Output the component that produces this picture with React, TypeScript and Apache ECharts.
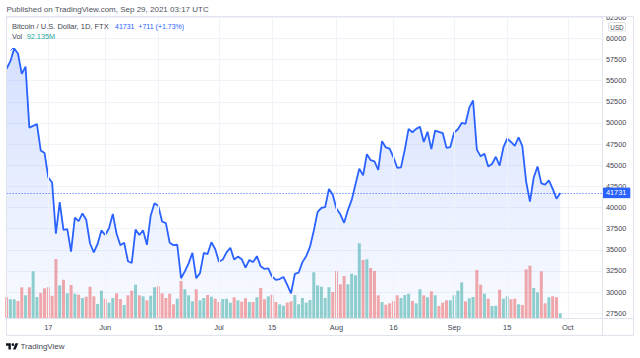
import React, { useEffect, useRef } from "react";
import * as echarts from "echarts";

// ---- data ----
const START = Date.UTC(2021, 4, 6);
const categories: string[] = Array.from({ length: 158 }, (_, i) =>
  new Date(START + i * 86400000).toISOString().slice(0, 10)
);

const closes: number[] = [
  // May 6-31
  56400, 57300, 58800, 58200, 55800, 56650, 49450, 49650, 49850, 46750,
  46450, 43550, 42950, 36900, 40650, 37350, 37450, 34800, 38800, 38400,
  39300, 38550, 35750, 34700, 35700, 37300,
  // Jun
  36750, 37550, 39250, 36900, 35550, 35850, 33650, 33450, 37400, 36750,
  37300, 35600, 39050, 40500, 40200, 38350, 38150, 35850, 35550, 35600,
  31650, 32450, 33400, 34650, 31650, 32250, 34650, 34500, 35900, 35100,
  // Jul
  33600, 33850, 34700, 35250, 33850, 34200, 33900, 32900, 33800, 33550,
  34250, 33050, 32750, 32800, 31850, 31450, 31550, 31800, 30850, 29850,
  32150, 32300, 33550, 34250, 35350, 37250, 39450, 39950, 40050, 42200,
  41500,
  // Aug
  39850, 39200, 38200, 39700, 40900, 42750, 44600, 43800, 46300, 45600,
  45450, 44450, 47850, 47100, 46950, 45950, 44700, 44750, 46850, 49300,
  48900, 49300, 49550, 47750, 48950, 46900, 49100, 48950, 48800, 47050,
  47150,
  // Sep 1-29
  48850, 49250, 50000, 49900, 51800, 52650, 46850, 46050, 46350, 44850,
  45150, 46000, 44950, 47100, 48150, 47750, 47300, 48300, 47250, 43050,
  40700, 43550, 44850, 42850, 42700, 43200, 42200, 41050, 41731,
];

// volume, millions of USD
const volumes: number[] = [
  406, 367, 367, 333, 602, 445, 602, 915, 412, 490, 582, 602, 437, 1156, 641,
  751, 484, 647, 476, 457, 392, 417, 613, 425, 274, 535,
  378, 300, 392, 484, 372, 255, 445, 535, 653, 445, 425, 347, 437, 602, 621,
  484, 392, 476, 269, 378, 725, 563, 445, 327, 563, 347, 392, 451, 417, 378,
  314, 372, 378, 300, 406, 347, 319, 386, 314, 314, 406, 588, 367, 425, 457,
  314, 269, 241, 300, 327, 451, 269, 392, 300, 353, 896, 641, 613, 392, 602,
  510,
  921, 661, 823, 661, 868, 837, 1464, 1137, 1151, 980, 921, 445, 314, 261,
  288, 327, 445, 392, 451, 476, 333, 288, 563, 445, 406, 523, 445, 235, 300,
  347, 347,
  445, 535, 700, 327, 386, 412, 941, 653, 476, 378, 235, 241, 555, 378, 425,
  367, 378, 269, 255, 955, 1025, 588, 504, 915, 288, 406, 425, 406, 92.135,
];

const prevClose = 57400;
const lastPrice = 41731;
const tickDates = [
  "2021-05-17", "2021-06-01", "2021-06-15", "2021-07-01", "2021-07-15",
  "2021-08-01", "2021-08-16", "2021-09-01", "2021-09-15", "2021-10-01",
];
const tickLabels = ["17", "Jun", "15", "Jul", "15", "Aug", "16", "Sep", "15", "Oct"];
const priceTicks = [
  27500, 30000, 32500, 35000, 37500, 40000, 42500, 45000, 47500, 50000,
  52500, 55000, 57500, 60000, 62500,
];

const FONT = "'Liberation Sans', Arial, sans-serif";
const BLUE = "#2962ff";
const UP = "rgba(38,166,154,0.5)";
const DOWN = "rgba(239,83,80,0.5)";
const TEXT = "#434651";

const logoPath =
  "M14 22H7V11H0V4h14v18zM28 22h-8l7.5-18h8L28 22zM24 8a4 4 0 1 1-8 0a4 4 0 1 1 8 0z";
let registered = false;

export default function App() {
  const ref = useRef<HTMLDivElement>(null);
  useEffect(() => {
    if (!registered) {
      echarts.graphic.registerShape("tvlogo", echarts.graphic.extendPath(logoPath, {}) as any);
      registered = true;
    }
    const chart = echarts.init(ref.current!, null, { renderer: "svg" });
    const labelIdx = tickDates.map((d) => categories.indexOf(d));
    const labelMap: Record<string, string> = {};
    tickDates.forEach((d, i) => (labelMap[d] = tickLabels[i]));

    const volData = volumes.map((v, i) => {
      const prev = i === 0 ? prevClose : closes[i - 1];
      return { value: v, itemStyle: { color: closes[i] >= prev ? UP : DOWN } };
    });

    const option: any = {
      animation: false,
      backgroundColor: "#ffffff",
      textStyle: { fontFamily: FONT },
      grid: [
        { left: 6.6, right: 38, top: 17.15, bottom: 40 },
        { left: 6.6, right: 38, top: 238, bottom: 40 },
      ],
      xAxis: [
        {
          type: "category", gridIndex: 0, data: categories, boundaryGap: false,
          axisLine: { show: false }, axisTick: { show: false },
          axisLabel: { show: false }, splitLine: { show: false },
        },
        {
          type: "category", gridIndex: 1, data: categories, boundaryGap: false,
          axisLine: { show: false }, axisTick: { show: false },
          splitLine: { show: false },
          axisLabel: {
            interval: (i: number) => labelIdx.includes(i),
            formatter: (v: string) => labelMap[v] || "",
            fontSize: 7.5, color: TEXT, margin: 5, fontFamily: FONT,
          },
        },
      ],
      yAxis: [
        {
          type: "value", gridIndex: 0, position: "right", min: 26945, max: 62500,
          axisLine: { show: false },
          axisTick: { show: false, customValues: priceTicks },
          axisLabel: {
            customValues: priceTicks, fontSize: 7.3, color: TEXT, margin: 4, fontFamily: FONT,
            formatter: (v: number) => String(v),
          },
          splitLine: { show: true, lineStyle: { color: "#f0f3fa", width: 1 } },
        },
        { type: "value", gridIndex: 1, min: 0, max: 1568, show: false },
      ],
      series: [
        {
          type: "bar", xAxisIndex: 1, yAxisIndex: 1, data: volData,
          barWidth: 3, silent: true,
        },
        {
          type: "line", xAxisIndex: 0, yAxisIndex: 0, data: closes,
          showSymbol: false, symbol: "none",
          lineStyle: { color: BLUE, width: 1.8 },
          areaStyle: {
            origin: "start",
            color: new echarts.graphic.LinearGradient(0, 0, 0, 1, [
              { offset: 0, color: "rgba(41,98,255,0.28)" },
              { offset: 1, color: "rgba(41,98,255,0.04)" },
            ]),
          },
          markLine: {
            silent: true, symbol: ["none", "none"], animation: false,
            data: [
              ...tickDates.map((d) => ({
                xAxis: d,
                lineStyle: { color: "#f0f3fa", type: "solid", width: 1 },
                label: { show: false },
              })),
              {
                yAxis: lastPrice,
                lineStyle: { color: BLUE, type: [1, 2], width: 1 },
                label: {
                  show: true, position: "end", distance: 0,
                  formatter: String(lastPrice),
                  backgroundColor: BLUE, color: "#ffffff",
                  fontSize: 7.3, fontFamily: FONT, padding: [2, 4, 1.5, 4],
                },
              },
            ],
          },
        },
      ],
      graphic: [
        { type: "rect", z: 100, shape: { x: 603, y: 0, width: 32, height: 16 }, style: { fill: "#ffffff" } },
        { type: "rect", z: 101, shape: { x: 6.5, y: 16.5, width: 627, height: 319 }, style: { fill: "none", stroke: "#e0e3eb", lineWidth: 1 } },
        { type: "line", z: 101, shape: { x1: 602.5, y1: 16.5, x2: 602.5, y2: 335.5 }, style: { stroke: "#e0e3eb", lineWidth: 1 } },
        { type: "line", z: 101, shape: { x1: 6.5, y1: 318.5, x2: 633.5, y2: 318.5 }, style: { stroke: "#e0e3eb", lineWidth: 1 } },
        { type: "rect", z: 101, shape: { x: 608.5, y: 22.5, width: 17, height: 8.5, r: 1.5 }, style: { fill: "#ffffff", stroke: "#d1d4dc", lineWidth: 0.8 } },
        { type: "text", z: 102, x: 617, y: 27, style: { text: "USD", fontSize: 6.3, fill: TEXT, fontFamily: FONT, align: "center", verticalAlign: "middle" } },
        { type: "text", z: 102, x: 6.5, y: 9, style: { text: "Published on TradingView.com, Sep 29, 2021 03:17 UTC", fontSize: 8, fill: "#50535e", fontFamily: FONT, verticalAlign: "middle" } },
        { type: "text", z: 102, x: 12, y: 26, style: { text: "Bitcoin / U.S. Dollar, 1D, FTX", fontSize: 7.5, fill: TEXT, fontFamily: FONT, verticalAlign: "middle" } },
        { type: "text", z: 102, x: 115, y: 26, style: { text: "41731  +711 (+1.73%)", fontSize: 7, fill: BLUE, fontFamily: FONT, verticalAlign: "middle" } },
        { type: "text", z: 102, x: 12, y: 36.5, style: { text: "Vol", fontSize: 7.3, fill: TEXT, fontFamily: FONT, verticalAlign: "middle" } },
        { type: "text", z: 102, x: 26.7, y: 36.5, style: { text: "92.135M", fontSize: 7.3, fill: "#26a69a", fontFamily: FONT, verticalAlign: "middle" } },
        { type: "polyline", z: 102, shape: { points: [[10.5, 50.5], [13, 48], [15.5, 50.5]] }, style: { stroke: BLUE, lineWidth: 1, fill: "none" } },
        { type: "tvlogo", z: 102, x: 6, y: 341.9, scaleX: 0.346, scaleY: 0.346, style: { fill: "#131722" } },
        { type: "text", z: 102, x: 20.5, y: 346.5, style: { text: "TradingView", fontSize: 8, fill: TEXT, fontFamily: FONT, verticalAlign: "middle" } },
      ],
    };
    chart.setOption(option);
    return () => chart.dispose();
  }, []);
  return (
    <div
      ref={ref}
      style={{ position: "fixed", left: 0, top: 0, width: 640, height: 358, background: "#fff" }}
    />
  );
}
